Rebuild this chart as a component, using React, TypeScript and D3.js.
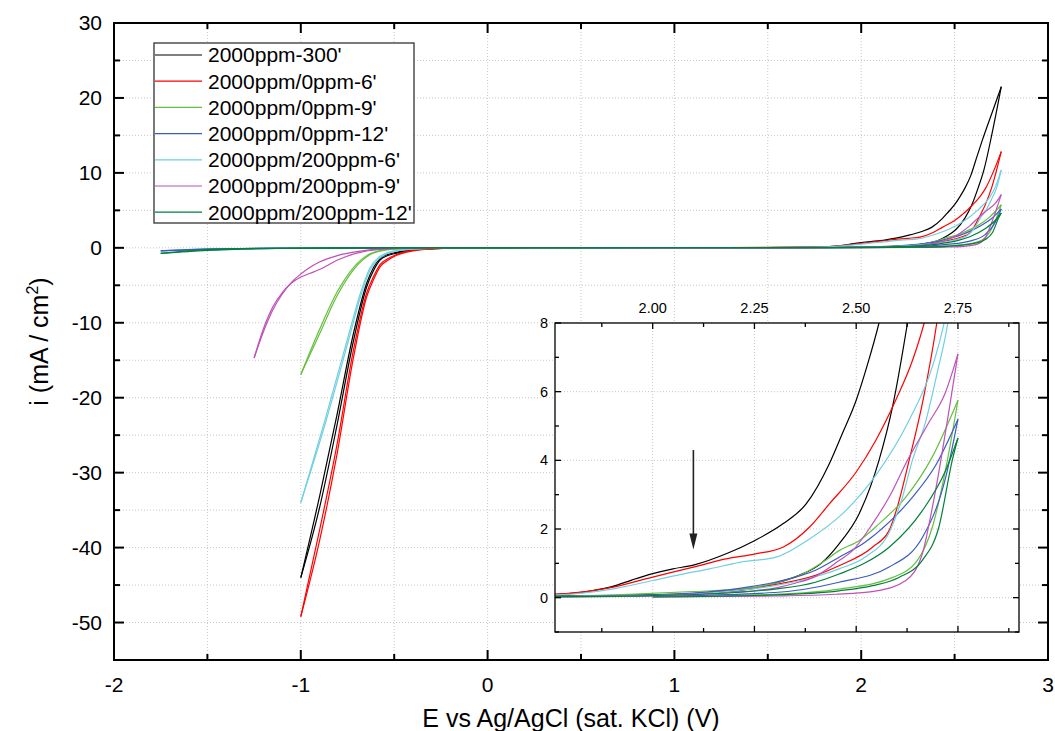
import * as d3 from 'd3';

// sweep order: 0 -> 2.75 -> 0 -> Emin -> 0   [E (V), i (mA/cm2)]
const s300 = [
  [0, 0], [0.5, 0.01], [1.0, 0.02], [1.5, 0.04], [1.76, 0.1], [1.85, 0.2], [1.9, 0.32], [1.95, 0.52], [2.0, 0.7],
  [2.05, 0.84], [2.1, 0.95], [2.185, 1.3], [2.25, 1.66], [2.32, 2.15], [2.377, 2.73], [2.434, 3.9], [2.466, 4.78],
  [2.5, 5.75], [2.528, 6.8], [2.556, 8.0], [2.586, 9.6], [2.62, 12.2], [2.649, 14.4], [2.7, 18.0], [2.75, 21.5],
  [2.7, 15.2], [2.657, 10.4], [2.626, 8.0], [2.59, 5.6], [2.556, 4.0], [2.507, 2.44], [2.458, 1.57], [2.414, 1.0],
  [2.36, 0.65], [2.3, 0.42], [2.238, 0.25], [2.1, 0.12], [2.0, 0.08], [1.76, 0.05], [1.0, 0.02], [0, 0],
  [-0.184, -0.04], [-0.362, -0.18], [-0.487, -0.7], [-0.53, -1.0], [-0.575, -1.6], [-0.61, -3.0], [-0.647, -5.2],
  [-0.717, -12.3], [-0.808, -23.9], [-0.898, -34.5], [-1.0, -44.0],
  [-0.898, -33.0], [-0.808, -22.5], [-0.717, -11.3], [-0.647, -4.7], [-0.61, -2.6], [-0.575, -1.4], [-0.53, -0.85],
  [-0.487, -0.6], [-0.362, -0.15], [-0.184, -0.03], [0, 0],
];
const s0_6 = [
  [0, 0], [0.5, 0.01], [1.0, 0.02], [1.5, 0.05], [1.76, 0.1], [1.9, 0.3], [2.0, 0.6], [2.1, 0.89], [2.18, 1.13],
  [2.25, 1.27], [2.32, 1.47], [2.385, 2.05], [2.434, 2.73], [2.5, 3.66], [2.548, 4.58], [2.597, 5.75], [2.638, 6.9],
  [2.667, 8.0], [2.71, 10.3], [2.75, 12.85],
  [2.725, 10.4], [2.698, 8.0], [2.665, 5.8], [2.63, 4.0], [2.6, 2.6], [2.581, 1.96], [2.54, 1.47], [2.458, 0.93],
  [2.4, 0.65], [2.3, 0.38], [2.2, 0.22], [2.0, 0.07], [1.76, 0.04], [1.0, 0.01], [0, 0],
  [-0.184, -0.04], [-0.362, -0.27], [-0.487, -1.0], [-0.53, -1.6], [-0.575, -2.5], [-0.61, -4.2], [-0.647, -6.5],
  [-0.717, -14.5], [-0.808, -27.8], [-0.898, -38.9], [-1.0, -49.2],
  [-0.898, -37.5], [-0.808, -26.5], [-0.717, -13.5], [-0.647, -6.0], [-0.61, -3.8], [-0.575, -2.2], [-0.53, -1.4],
  [-0.487, -0.9], [-0.362, -0.22], [-0.184, -0.03], [0, 0],
];
const s0_9 = [
  [0, 0], [0.5, 0.01], [1.0, 0.02], [1.5, 0.03], [1.76, 0.04], [1.968, 0.11], [2.1, 0.18], [2.2, 0.24], [2.3, 0.42],
  [2.377, 0.74], [2.42, 1.05], [2.458, 1.37], [2.507, 1.66], [2.556, 2.15], [2.622, 2.93], [2.687, 4.1], [2.75, 5.75],
  [2.724, 4.0], [2.687, 2.05], [2.65, 1.08], [2.59, 0.59], [2.458, 0.25], [2.3, 0.1], [2.0, 0.03], [1.0, 0.01], [0, 0],
  [-0.3, -0.03], [-0.45, -0.1], [-0.54, -0.27], [-0.63, -0.93], [-0.717, -2.9], [-0.808, -6.5], [-0.898, -11.4],
  [-1.0, -16.9],
  [-0.898, -10.8], [-0.808, -6.0], [-0.717, -2.6], [-0.63, -0.8], [-0.54, -0.22], [-0.45, -0.08], [-0.3, -0.02], [0, 0],
];
const s0_12 = [
  [0, 0], [0.5, 0.01], [1.0, 0.01], [1.5, 0.02], [1.76, 0.03], [2.0, 0.08], [2.2, 0.25], [2.3, 0.45], [2.4, 0.8],
  [2.458, 1.18], [2.52, 1.6], [2.581, 2.2], [2.64, 2.95], [2.695, 3.85], [2.75, 5.2],
  [2.72, 3.51], [2.663, 1.76], [2.581, 0.89], [2.458, 0.45], [2.3, 0.15], [2.0, 0.04], [1.0, 0.01], [0, 0],
  [-0.5, -0.02], [-1.0, -0.06], [-1.2, -0.1], [-1.5, -0.22], [-1.75, -0.4],
  [-1.5, -0.15], [-1.2, -0.05], [-0.8, -0.02], [0, 0],
];
const s200_6 = [
  [0, 0], [0.5, 0.01], [1.0, 0.02], [1.5, 0.04], [1.76, 0.08], [1.9, 0.25], [2.0, 0.5], [2.07, 0.68], [2.14, 0.84],
  [2.213, 1.03], [2.303, 1.18], [2.385, 1.71], [2.466, 2.44], [2.548, 3.56], [2.63, 5.17], [2.687, 6.72],
  [2.716, 8.0], [2.75, 10.4],
  [2.725, 8.0], [2.7, 6.6], [2.67, 5.1], [2.638, 4.0], [2.613, 2.9], [2.581, 1.9], [2.524, 1.2], [2.458, 0.84],
  [2.38, 0.55], [2.3, 0.35], [2.2, 0.2], [2.0, 0.06], [1.76, 0.03], [1.0, 0.01], [0, 0],
  [-0.15, -0.02], [-0.3, -0.08], [-0.45, -0.3], [-0.53, -0.7], [-0.58, -1.4], [-0.63, -3.0], [-0.68, -6.5],
  [-0.744, -12.3], [-0.874, -23.9], [-1.0, -34.0],
  [-0.874, -23.3], [-0.744, -11.6], [-0.68, -6.0], [-0.63, -2.7], [-0.58, -1.2], [-0.53, -0.6], [-0.45, -0.25],
  [-0.3, -0.06], [-0.15, -0.01], [0, 0],
];
const s200_9 = [
  [0, 0], [0.5, 0.01], [1.0, 0.01], [1.76, 0.02], [2.0, 0.05], [2.2, 0.15], [2.3, 0.28], [2.35, 0.42], [2.4, 0.62],
  [2.458, 1.08], [2.491, 1.37], [2.54, 2.15], [2.581, 2.93], [2.626, 4.0], [2.675, 5.03], [2.72, 6.0], [2.75, 7.1],
  [2.73, 5.6], [2.708, 4.0], [2.685, 2.5], [2.663, 1.3], [2.622, 0.5], [2.55, 0.2], [2.45, 0.1], [2.3, 0.05],
  [2.0, 0.02], [1.0, 0.01], [0, 0],
  [-0.4, -0.04], [-0.575, -0.15], [-0.7, -0.5], [-0.8, -1.0], [-0.9, -1.9], [-0.95, -2.6], [-1.0, -3.5], [-1.05, -4.6],
  [-1.1, -6.2], [-1.15, -8.3], [-1.2, -11.2], [-1.25, -14.7],
  [-1.2, -10.8], [-1.15, -7.9], [-1.1, -6.0], [-1.05, -4.7], [-1.0, -3.9], [-0.95, -3.4], [-0.9, -2.9], [-0.8, -1.6],
  [-0.7, -0.7], [-0.575, -0.2], [-0.4, -0.05], [0, 0],
];
const s200_12 = [
  [0, 0], [0.5, 0.01], [1.0, 0.01], [1.5, 0.02], [1.76, 0.03], [2.0, 0.06], [2.2, 0.15], [2.3, 0.25], [2.4, 0.45],
  [2.458, 0.69], [2.52, 1.0], [2.581, 1.47], [2.663, 2.54], [2.72, 3.71], [2.75, 4.65],
  [2.736, 4.0], [2.703, 2.05], [2.662, 1.08], [2.605, 0.59], [2.54, 0.35], [2.458, 0.2], [2.3, 0.08], [2.0, 0.02],
  [1.0, 0.01], [0, 0],
  [-0.5, -0.02], [-1.0, -0.05], [-1.2, -0.12], [-1.5, -0.35], [-1.75, -0.75],
  [-1.5, -0.25], [-1.2, -0.07], [-0.8, -0.02], [0, 0],
];

const seriesNames = [
  "2000ppm-300'", "2000ppm/0ppm-6'", "2000ppm/0ppm-9'", "2000ppm/0ppm-12'",
  "2000ppm/200ppm-6'", "2000ppm/200ppm-9'", "2000ppm/200ppm-12'",
];
const seriesColors = ['#000000', '#ff0000', '#66bf3f', '#3a5cc0', '#6fcfe0', '#c050b8', '#00803c'];
const seriesData = [s300, s0_6, s0_9, s0_12, s200_6, s200_9, s200_12];

const xTicksMain = [-2, -1, 0, 1, 2, 3];
const yTicksMain = [-50, -40, -30, -20, -10, 0, 10, 20, 30];
const xTicksInset = [2.0, 2.25, 2.5, 2.75];
const yTicksInset = [0, 2, 4, 6, 8];

// arrow in the inset (E, i from -> to)
const arrowE = 2.1;
const arrowFrom = 4.3;
const arrowTo = 1.4;

const FONT = "'Liberation Sans', Arial, sans-serif";

// split a CV sweep into pieces that are monotone in E (sorted ascending)
function branches(pts) {
  const out = [];
  let cur = [pts[0]];
  let dir = 0;
  for (let k = 1; k < pts.length; k++) {
    const d = Math.sign(pts[k][0] - pts[k - 1][0]);
    if (dir !== 0 && d !== dir) {
      out.push(cur);
      cur = [pts[k - 1]];
    }
    dir = d;
    cur.push(pts[k]);
  }
  out.push(cur);
  return out.map(r => (r[0][0] > r[r.length - 1][0] ? [...r].reverse() : r));
}

export default function App() {
  const W = 1055, H = 731;

  const x = d3.scaleLinear().domain([-2, 3]).range([114, 1048]);
  const y = d3.scaleLinear().domain([-55, 30]).range([660, 23]);
  const xi = d3.scaleLinear().domain([1.76, 2.9]).range([555, 1019]);
  const yi = d3.scaleLinear().domain([-1, 8]).range([632, 323]);

  const lineMain = d3.line().x(d => x(d[0])).y(d => y(d[1])).curve(d3.curveMonotoneX);
  const lineIn = d3.line().x(d => xi(d[0])).y(d => yi(d[1])).curve(d3.curveMonotoneX);

  const [x0, x1] = x.range();
  const [y0, y1] = y.range(); // bottom, top
  const [ix0, ix1] = xi.range();
  const [iy0, iy1] = yi.range();

  const xMinor = d3.range(-2, 3.01, 0.5);
  const yMinor = d3.range(-55, 30.01, 5);
  const xMinorIn = d3.range(1.875, 2.9, 0.125);
  const yMinorIn = d3.range(-1, 8.01, 1);

  const grid = { stroke: '#c8c8c8', strokeWidth: 1, strokeDasharray: '1,2' };
  const isMajor = (v, step) => Math.abs(v / step - Math.round(v / step)) < 1e-6;

  return (
    <svg width={W} height={H} style={{ position: 'absolute', left: 0, top: 0, background: '#fff' }} fontFamily={FONT}>
      <rect width={W} height={H} fill="#fff" />

      {/* main grid */}
      {xMinor.filter(v => v > -2 && v < 3).map(v => (
        <line key={'gx' + v} x1={x(v)} x2={x(v)} y1={y0} y2={y1} {...grid} />
      ))}
      {yMinor.filter(v => v > -55 && v < 30).map(v => (
        <line key={'gy' + v} x1={x0} x2={x1} y1={y(v)} y2={y(v)} {...grid} />
      ))}

      {/* main curves */}
      {seriesData.map((s, k) => branches(s).map((b, j) => (
        <path key={'m' + k + '_' + j} d={lineMain(b)} fill="none" stroke={seriesColors[k]} strokeWidth={1.2} />
      )))}

      {/* main ticks */}
      {xMinor.map(v => {
        const len = isMajor(v, 1) ? 10 : 6;
        return (
          <g key={'tx' + v} stroke="#000" strokeWidth={2}>
            <line x1={x(v)} x2={x(v)} y1={y0} y2={y0 - len} />
            <line x1={x(v)} x2={x(v)} y1={y1} y2={y1 + len} />
          </g>
        );
      })}
      {yMinor.map(v => {
        const len = isMajor(v, 10) ? 10 : 6;
        return (
          <g key={'ty' + v} stroke="#000" strokeWidth={2}>
            <line x1={x0} x2={x0 + len} y1={y(v)} y2={y(v)} />
            <line x1={x1} x2={x1 - len} y1={y(v)} y2={y(v)} />
          </g>
        );
      })}
      <rect x={x0} y={y1} width={x1 - x0} height={y0 - y1} fill="none" stroke="#000" strokeWidth={2} />

      {xTicksMain.map(v => (
        <text key={'lx' + v} x={x(v)} y={y0 + 32} textAnchor="middle" fontSize={21}>{v}</text>
      ))}
      {yTicksMain.map(v => (
        <text key={'ly' + v} x={x0 - 12} y={y(v)} dy="0.35em" textAnchor="end" fontSize={21}>{v}</text>
      ))}

      <text x={(x0 + x1) / 2 - 10} y={727} textAnchor="middle" fontSize={25}>E vs Ag/AgCl (sat. KCl) (V)</text>
      <text transform={`translate(48,${(y0 + y1) / 2}) rotate(-90)`} textAnchor="middle" fontSize={25}>
        i (mA / cm<tspan dy={-10} fontSize={16}>2</tspan><tspan dy={10}>)</tspan>
      </text>

      {/* legend */}
      <g>
        <rect x={154} y={43} width={260} height={180} fill="#fff" stroke="#333" strokeWidth={1.3} />
        {seriesNames.map((n, k) => {
          const cy = 55 + k * 26.2;
          return (
            <g key={'lg' + k}>
              <line x1={155} x2={202} y1={cy} y2={cy} stroke={seriesColors[k]} strokeWidth={1.2} />
              <text x={208} y={cy} dy="0.35em" fontSize={21}>{n}</text>
            </g>
          );
        })}
      </g>

      {/* inset */}
      <defs>
        <clipPath id="inset-clip">
          <rect x={ix0} y={iy1} width={ix1 - ix0} height={iy0 - iy1} />
        </clipPath>
      </defs>
      <rect x={ix0} y={iy1} width={ix1 - ix0} height={iy0 - iy1} fill="#fff" />
      {xTicksInset.map(v => (
        <line key={'igx' + v} x1={xi(v)} x2={xi(v)} y1={iy0} y2={iy1} {...grid} />
      ))}
      {yTicksInset.filter(v => v < 8).map(v => (
        <line key={'igy' + v} x1={ix0} x2={ix1} y1={yi(v)} y2={yi(v)} {...grid} />
      ))}
      <g clipPath="url(#inset-clip)">
        {seriesData.map((s, k) => branches(s).filter(b => b[b.length - 1][0] > 1.7).map((b, j) => (
          <path key={'i' + k + '_' + j} d={lineIn(b.filter(p => p[0] >= 1.5))} fill="none" stroke={seriesColors[k]} strokeWidth={1.2} />
        )))}
      </g>
      {xMinorIn.map(v => {
        const len = isMajor(v, 0.25) ? 6 : 4;
        return (
          <g key={'itx' + v} stroke="#000" strokeWidth={1.3}>
            <line x1={xi(v)} x2={xi(v)} y1={iy0} y2={iy0 - len} />
            <line x1={xi(v)} x2={xi(v)} y1={iy1} y2={iy1 + len} />
          </g>
        );
      })}
      {yMinorIn.map(v => {
        const len = isMajor(v, 2) ? 6 : 4;
        return (
          <g key={'ity' + v} stroke="#000" strokeWidth={1.3}>
            <line x1={ix0} x2={ix0 + len} y1={yi(v)} y2={yi(v)} />
            <line x1={ix1} x2={ix1 - len} y1={yi(v)} y2={yi(v)} />
          </g>
        );
      })}
      <rect x={ix0} y={iy1} width={ix1 - ix0} height={iy0 - iy1} fill="none" stroke="#000" strokeWidth={1.3} />
      {xTicksInset.map(v => (
        <text key={'ilx' + v} x={xi(v)} y={iy1 - 10} textAnchor="middle" fontSize={14.5}>{v.toFixed(2)}</text>
      ))}
      {yTicksInset.map(v => (
        <text key={'ily' + v} x={ix0 - 7} y={yi(v)} dy="0.35em" textAnchor="end" fontSize={14.5}>{v}</text>
      ))}

      {/* arrow */}
      <line x1={xi(arrowE)} x2={xi(arrowE)} y1={yi(arrowFrom)} y2={yi(arrowTo) - 14} stroke="#222" strokeWidth={1.6} />
      <path
        d={`M${xi(arrowE) - 4},${yi(arrowTo) - 16} L${xi(arrowE) + 4},${yi(arrowTo) - 16} L${xi(arrowE)},${yi(arrowTo)} Z`}
        fill="#222"
      />
    </svg>
  );
}
